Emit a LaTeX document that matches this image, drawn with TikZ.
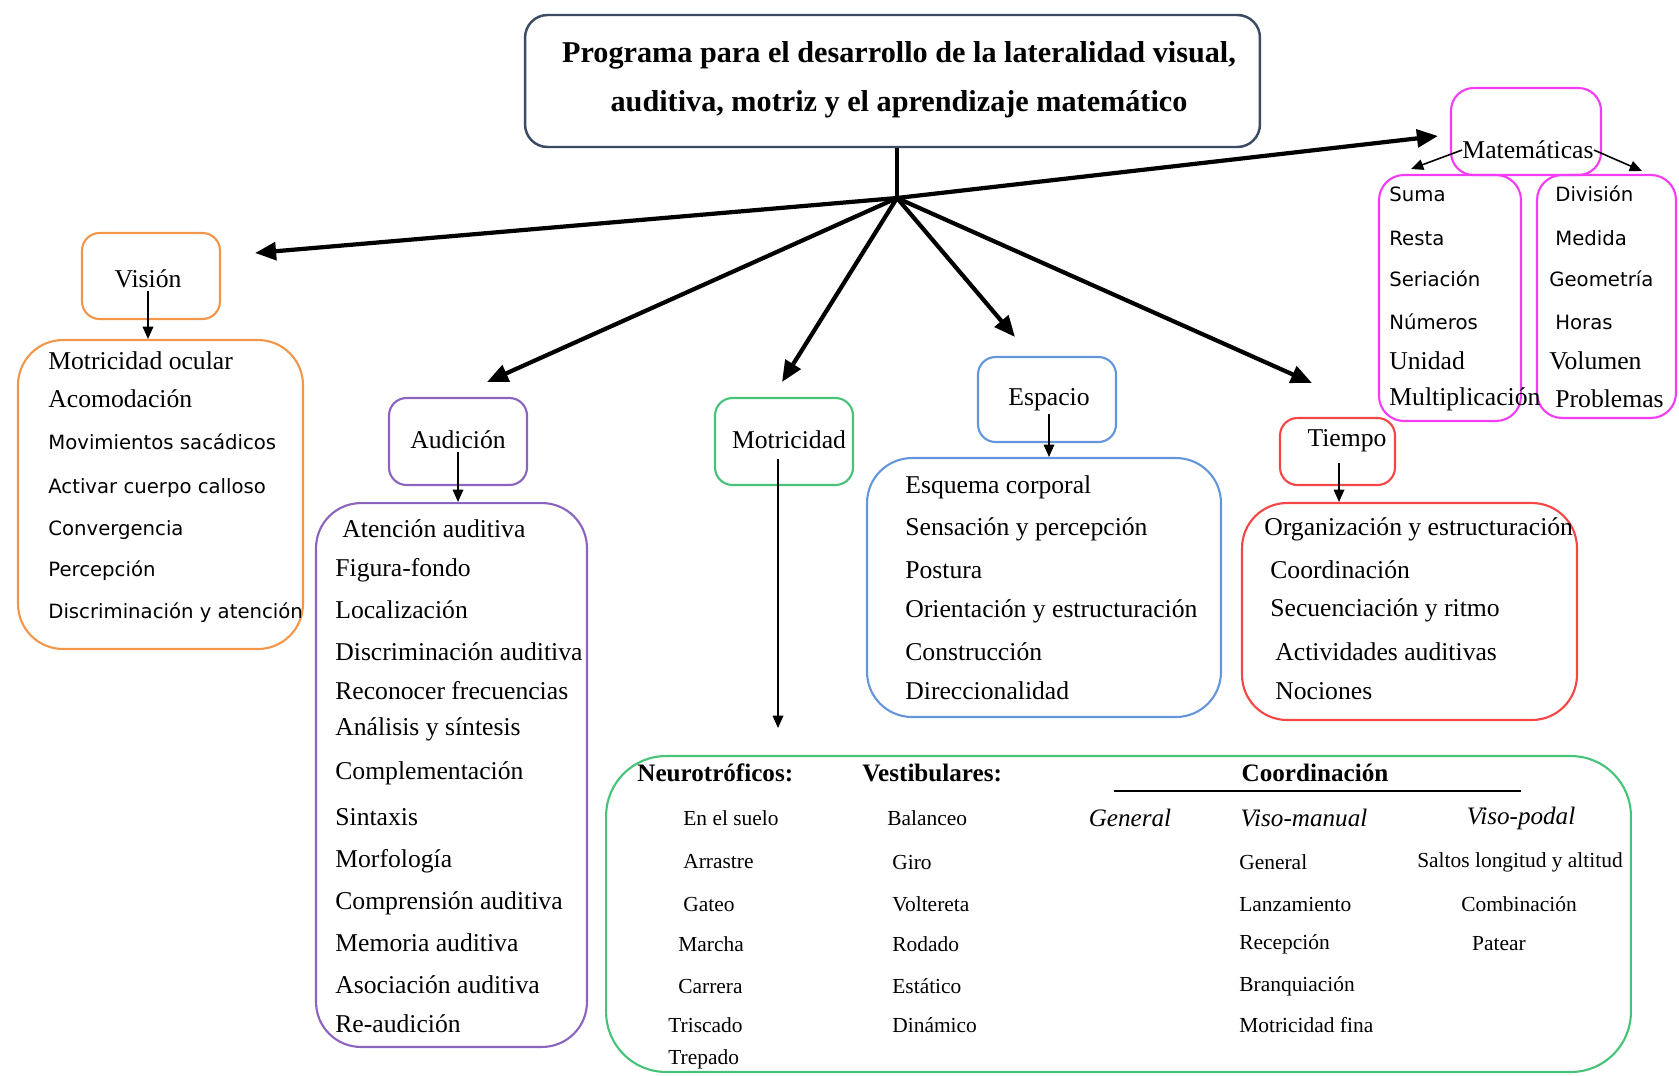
\documentclass[tikz,border=0pt]{standalone}
\usepackage{fontspec}
\setmainfont{Liberation Serif}
\newfontfamily\sansf{DejaVu Sans}
\usetikzlibrary{arrows.meta}
\definecolor{ctitle}{RGB}{60,75,100}
\definecolor{corange}{RGB}{242,150,75}
\definecolor{cpurple}{RGB}{140,100,190}
\definecolor{cgreen}{RGB}{70,195,120}
\definecolor{cblue}{RGB}{100,150,220}
\definecolor{cred}{RGB}{245,70,70}
\definecolor{cmag}{RGB}{245,60,245}
\tikzset{
  box/.style={draw, line width=1.2pt, inner sep=0pt, rounded corners=0.35cm},
  listbox/.style={box, rounded corners=0.9cm},
  lab/.style={inner sep=0pt, anchor=west, font=\fontsize{14.6}{16}\selectfont},
  clab/.style={inner sep=0pt, font=\fontsize{14.6}{16}\selectfont},
  slab/.style={inner sep=0pt, anchor=west, font=\sansf\fontsize{11.2}{12}\selectfont},
  small/.style={inner sep=0pt, anchor=west, font=\fontsize{12.2}{13}\selectfont},
  csmall/.style={inner sep=0pt, font=\fontsize{12.2}{13}\selectfont},
  hdr/.style={inner sep=0pt, anchor=west, font=\bfseries\fontsize{14.3}{16}\selectfont},
  ital/.style={inner sep=0pt, font=\itshape\fontsize{14.3}{16}\selectfont},
  bigarrow/.style={line width=2.4pt, -{Triangle[length=12pt,width=10pt]}},
  thinarrow/.style={line width=0.9pt, -{Triangle[length=7pt,width=6pt]}},
}
\begin{document}
\begin{tikzpicture}[x=0.02cm,y=-0.02cm]
\useasboundingbox (0,0) rectangle (1679,1075);

% title
\node[box, draw=ctitle, line width=1.4pt, rounded corners=0.45cm, minimum width=14.7cm, minimum height=2.64cm] (title) at (892.5,81) {};
\node[inner sep=0pt, align=center, font=\bfseries\fontsize{17.2}{28}\selectfont] (titletext) at (899,80)
  {Programa para el desarrollo de la lateralidad visual,\\auditiva, motriz y el aprendizaje matemático};

% hub and arrows
\coordinate (hub) at (897,198);
\coordinate (tipV) at (255,253);
\coordinate (tipM) at (1438,136);
\coordinate (tipA) at (487,382);
\coordinate (tipMo) at (782,382);
\coordinate (tipE) at (1015,337);
\coordinate (tipT) at (1312,383);
\draw[line width=2.4pt] (hub |- title.south) -- (hub);
\draw[bigarrow] (hub) -- (tipV);
\draw[bigarrow] (hub) -- (tipM);
\draw[bigarrow] (hub) -- (tipA);
\draw[bigarrow] (hub) -- (tipMo);
\draw[bigarrow] (hub) -- (tipE);
\draw[bigarrow] (hub) -- (tipT);

% Vision
\node[box, draw=corange, minimum width=2.76cm, minimum height=1.72cm] (vis) at (151,276) {};
\node[clab] (vistext) at (148,279) {Visión};
\node[listbox, draw=corange, minimum width=5.7cm, minimum height=6.18cm] (vislist) at (160.5,494.5) {};
\draw[thinarrow] ([yshift=-0.05cm]vistext.south) -- (vistext.south |- vislist.north);
\node[lab] (v1) at (48,361) {Motricidad ocular};
\node[lab] (v2) at (48,399) {Acomodación};
\node[slab] (v3) at (48,442) {Movimientos sacádicos};
\node[slab] (v4) at (48,488) {Activar cuerpo calloso};
\node[slab] (v5) at (48,530) {Convergencia};
\node[slab] (v6) at (48,571) {Percepción};
\node[slab] (v7) at (48,613) {Discriminación y atención};

% Matematicas
\node[box, draw=cmag, rounded corners=0.45cm, minimum width=3.0cm, minimum height=1.74cm] (mat) at (1526,131.5) {};
\node[clab] (mattext) at (1528,150) {Matemáticas};
\node[box, draw=cmag, rounded corners=0.5cm, minimum width=2.84cm, minimum height=4.92cm] (matL) at (1450,298) {};
\node[box, draw=cmag, rounded corners=0.5cm, minimum width=2.78cm, minimum height=4.86cm] (matR) at (1606.5,296.5) {};
\coordinate (mL) at (1411,169);
\coordinate (mR) at (1642,171);
\draw[thinarrow] (mattext.west) -- (mL);
\draw[thinarrow] (mattext.east) -- (mR);
\node[slab] (m1) at (1389,194) {Suma};
\node[slab] (m2) at (1389,238) {Resta};
\node[slab] (m3) at (1389,279) {Seriación};
\node[slab] (m4) at (1389,322) {Números};
\node[lab] (m5) at (1389,361) {Unidad};
\node[lab] (m6) at (1389,399) {Multiplicación};
\node[slab] (n1) at (1555,194) {División};
\node[slab] (n2) at (1555,238) {Medida};
\node[slab] (n3) at (1549,279) {Geometría};
\node[slab] (n4) at (1555,322) {Horas};
\node[lab] (n5) at (1549,361) {Volumen};
\node[lab] (n6) at (1555,399) {Problemas};

% Audicion
\node[box, draw=cpurple, minimum width=2.76cm, minimum height=1.74cm] (aud) at (458,441.5) {};
\node[clab] (audtext) at (458,440) {Audición};
\node[listbox, draw=cpurple, minimum width=5.42cm, minimum height=10.88cm] (audlist) at (451.5,775) {};
\draw[thinarrow] ([yshift=-0.05cm]audtext.south) -- (audtext.south |- audlist.north);
\node[lab] (a1) at (342,529) {Atención auditiva};
\node[lab] (a2) at (335,570) {Figura-fondo};
\node[lab] (a3) at (335,610) {Localización};
\node[lab] (a4) at (335,652) {Discriminación auditiva};
\node[lab] (a5) at (335,691) {Reconocer frecuencias};
\node[lab] (a6) at (335,729) {Análisis y síntesis};
\node[lab] (a7) at (335,773) {Complementación};
\node[lab] (a8) at (335,817) {Sintaxis};
\node[lab] (a9) at (335,861) {Morfología};
\node[lab] (a10) at (335,903) {Comprensión auditiva};
\node[lab] (a11) at (335,943) {Memoria auditiva};
\node[lab] (a12) at (335,985) {Asociación auditiva};
\node[lab] (a13) at (335,1024) {Re-audición};

% Motricidad
\node[box, draw=cgreen, minimum width=2.76cm, minimum height=1.74cm] (mot) at (784,441.5) {};
\node[clab] (mottext) at (789,440) {Motricidad};
\node[box, draw=cgreen, rounded corners=1.2cm, minimum width=20.5cm, minimum height=6.32cm] (motbig) at (1118.5,914) {};
\coordinate (motend) at (778,728);
\draw[thinarrow] ([yshift=-0.2cm]mottext.south -| motend) -- (motend);
\node[hdr] (h1) at (637,773) {Neurotróficos:};
\node[hdr] (h2) at (862,773) {Vestibulares:};
\node[clab, font=\bfseries\fontsize{14.3}{16}\selectfont] (h3) at (1315,773) {Coordinación};
\coordinate (ulA) at (1114,791);
\coordinate (ulB) at (1521,791);
\draw[line width=1pt] (ulA) -- (ulB);
\node[ital] (i1) at (1130,818) {General};
\node[ital] (i2) at (1304,818) {Viso-manual};
\node[ital] (i3) at (1521,818) {Viso-podal};
\node[small] (e1) at (683,818) {En el suelo};
\node[small] (e2) at (683,862) {Arrastre};
\node[small] (e3) at (683,904) {Gateo};
\node[small] (e4) at (678,944) {Marcha};
\node[small] (e5) at (678,986) {Carrera};
\node[small] (e6) at (668,1025) {Triscado};
\node[small] (e7) at (668,1059) {Trepado};
\node[small] (f1) at (887,818) {Balanceo};
\node[small] (f2) at (892,862) {Giro};
\node[small] (f3) at (892,904) {Voltereta};
\node[small] (f4) at (892,944) {Rodado};
\node[small] (f5) at (892,986) {Estático};
\node[small] (f6) at (892,1025) {Dinámico};
\node[small] (g1) at (1239,862) {General};
\node[small] (g2) at (1239,904) {Lanzamiento};
\node[small] (g3) at (1239,944) {Recepción};
\node[small] (g4) at (1239,986) {Branquiación};
\node[small] (g5) at (1239,1025) {Motricidad fina};
\node[csmall] (p1) at (1520,862) {Saltos longitud y altitud};
\node[csmall] (p2) at (1519,904) {Combinación};
\node[csmall] (p3) at (1499,944) {Patear};

% Espacio
\node[box, draw=cblue, minimum width=2.76cm, minimum height=1.7cm] (esp) at (1047,399.5) {};
\node[clab] (esptext) at (1049,400) {Espacio};
\node[listbox, draw=cblue, minimum width=7.08cm, minimum height=5.18cm] (esplist) at (1044,587.5) {};
\draw[thinarrow] ([yshift=-0.05cm]esptext.south) -- (esptext.south |- esplist.north);
\node[lab] (s1) at (905,487) {Esquema corporal};
\node[lab] (s2) at (905,529) {Sensación y percepción};
\node[lab] (s3) at (905,570) {Postura};
\node[lab] (s4) at (905,611) {Orientación y estructuración};
\node[lab] (s5) at (905,652) {Construcción};
\node[lab] (s6) at (905,691) {Direccionalidad};

% Tiempo
\node[box, draw=cred, minimum width=2.3cm, minimum height=1.34cm] (tie) at (1337.5,451.5) {};
\node[clab] (tietext) at (1347,441) {Tiempo};
\node[listbox, draw=cred, minimum width=6.7cm, minimum height=4.34cm] (tielist) at (1409.5,611.5) {};
\coordinate (tiestart) at (1339,463);
\draw[thinarrow] (tiestart) -- (tiestart |- tielist.north);
\node[lab] (t1) at (1264,529) {Organización y estructuración};
\node[lab] (t2) at (1270,570) {Coordinación};
\node[lab] (t3) at (1270,610) {Secuenciación y ritmo};
\node[lab] (t4) at (1275,652) {Actividades auditivas};
\node[lab] (t5) at (1275,691) {Nociones};
\end{tikzpicture}
\end{document}
